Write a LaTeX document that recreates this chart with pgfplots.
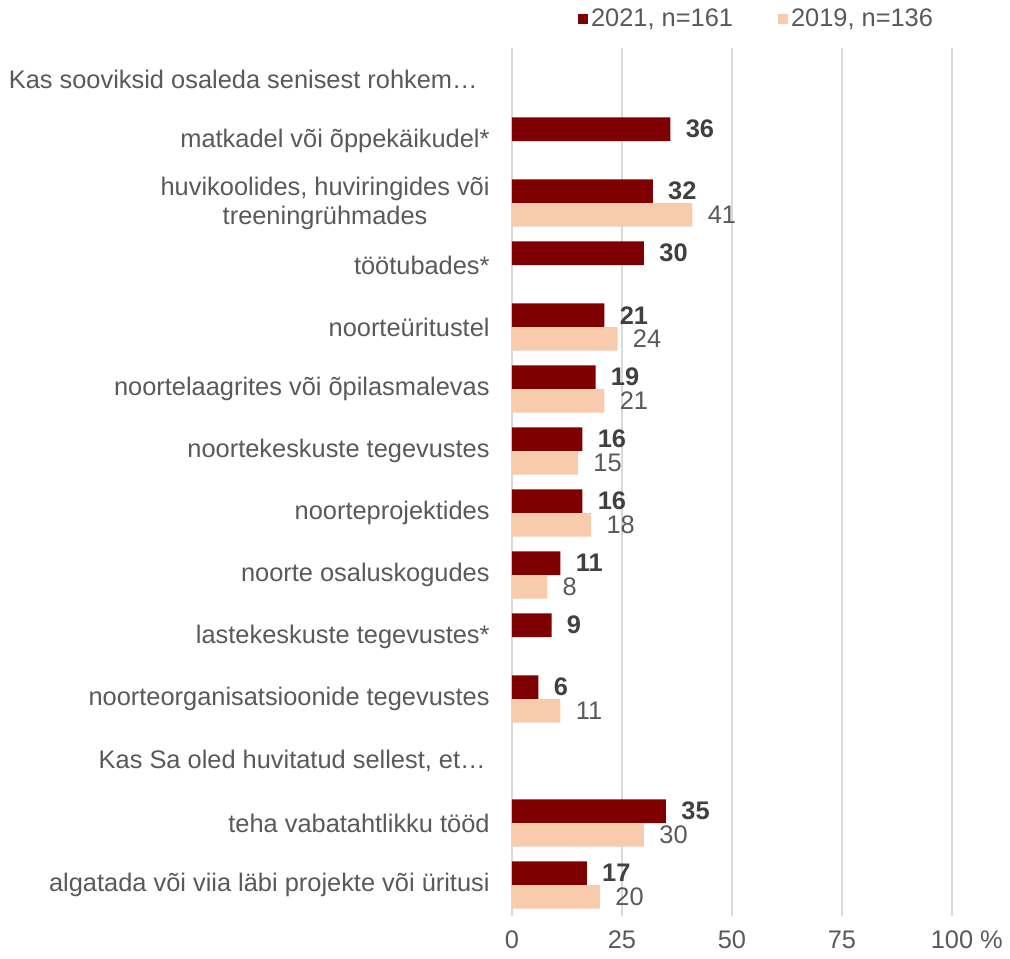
\documentclass[border=0pt]{standalone}
\usepackage{fontspec}
\setmainfont{Liberation Sans}
\usepackage{pgfplots}
\pgfplotsset{compat=1.18}
\definecolor{c21}{HTML}{7F0000}
\definecolor{c19}{HTML}{F8CBAD}
\definecolor{txt}{HTML}{595959}
\definecolor{txtd}{HTML}{404040}
\definecolor{grd}{HTML}{D9D9D9}
\begin{document}
\begin{tikzpicture}[font=\fontsize{12.7}{14.5}\selectfont]
\useasboundingbox (-256pt,-21pt) rectangle (249pt,458pt);
\begin{axis}[
  at={(0,0)}, anchor=south west,
  scale only axis, width=220pt, height=434pt,
  xmin=0, xmax=100, ymin=-0.5, ymax=13.5, y dir=reverse,
  /pgf/number format/assume math mode=true,
  axis line style={draw=none},
  major tick length=0pt,
  xmajorgrids, grid style={grd, line width=0.8pt},
  xtick={0,25,50,75,100},
  xticklabels={0,25,50,75,100\rlap{ \%}},
  xticklabel style={text=txt, anchor=center, inner sep=0pt, yshift=-12pt},
  ytick={0,...,13},
  yticklabels={
    {Kas sooviksid osaleda senisest rohkem…\hspace*{6pt}},
    {matkadel või õppekäikudel*},
    {huvikoolides, huviringides või\\treeningrühmades},
    {töötubades*},
    {noorteüritustel},
    {noortelaagrites või õpilasmalevas},
    {noortekeskuste tegevustes},
    {noorteprojektides},
    {noorte osaluskogudes},
    {lastekeskuste tegevustes*},
    {noorteorganisatsioonide tegevustes},
    {Kas Sa oled huvitatud sellest, et…\hspace*{2pt}},
    {teha vabatahtlikku tööd},
    {algatada või viia läbi projekte või üritusi}},
  yticklabel style={text=txt, anchor=east, align=center, inner sep=0pt, xshift=-11pt},
  legend style={at={(0.557,1.033)}, anchor=center, draw=none, fill=none,
    legend columns=2, text=txt,
    /tikz/every even column/.append style={column sep=21pt},
    inner sep=0pt, nodes={inner sep=1.5pt}},
  legend image code/.code={\fill[#1] (0pt,-2.5pt) rectangle (5pt,2.5pt);},
  point meta=x,
  nodes near coords={\pgfmathprintnumber[assume math mode=true]{\pgfplotspointmeta}},
]
\addplot[xbar, bar width=0.38, bar shift=-0.19, fill=c21, draw=none,
  every node near coord/.append style={anchor=west, inner sep=0pt, xshift=7.5pt, yshift=5.9pt, font=\fontsize{12.7}{14.5}\selectfont\bfseries, text=txtd}]
  coordinates {(36,1) (32,2) (30,3) (21,4) (19,5) (16,6) (16,7) (11,8) (9,9) (6,10) (35,12) (17,13)};
\addlegendentry{2021, n=161}
\addplot[xbar, bar width=0.38, bar shift=0.19, fill=c19, draw=none,
  every node near coord/.append style={anchor=west, inner sep=0pt, xshift=7.5pt, yshift=-5.9pt, text=txt}]
  coordinates {(41,2) (24,4) (21,5) (15,6) (18,7) (8,8) (11,10) (30,12) (20,13)};
\addlegendentry{2019, n=136}
\end{axis}
\end{tikzpicture}
\end{document}
